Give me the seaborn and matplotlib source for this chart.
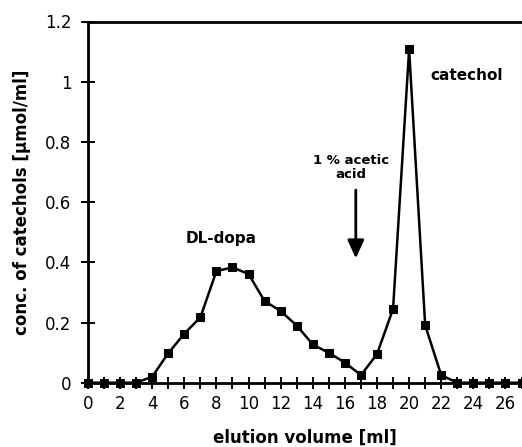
import matplotlib
matplotlib.use("Agg")
import matplotlib.pyplot as plt
import seaborn as sns
import numpy as np
import pandas as pd
from matplotlib.ticker import FuncFormatter

# Data
volume_ml = [0, 1, 2, 3, 4, 5, 6, 7, 8, 9, 10, 11, 12, 13, 14,
             15, 16, 17, 18, 19, 20, 21, 22, 23, 24, 25, 26, 27]
conc = [0.0, 0.0, 0.0, 0.0, 0.02, 0.098, 0.163, 0.217, 0.371, 0.383,
        0.361, 0.271, 0.238, 0.19, 0.127, 0.099, 0.067, 0.025, 0.095,
        0.245, 1.107, 0.191, 0.025, 0.0, 0.0, 0.0, 0.0, 0.0]
x_tick_labels = [str(v) for v in range(0, 27, 2)]
y_ticks = [0, 0.2, 0.4, 0.6, 0.8, 1.0, 1.2]

df = pd.DataFrame({"volume": volume_ml, "conc": conc})

sns.set_style("ticks")
plt.rcParams['font.family'] = ['DejaVu Sans']
plt.rcParams['text.color'] = 'black'
plt.rcParams['axes.labelcolor'] = 'black'
plt.rcParams['xtick.color'] = 'black'
plt.rcParams['ytick.color'] = 'black'

fig = plt.figure(figsize=(5.22, 4.47), dpi=100)
ax = fig.add_axes([88 / 522, 1 - 382.7 / 447, (521.5 - 88) / 522, (382.7 - 21.5) / 447])

sns.lineplot(data=df, x="volume", y="conc", ax=ax, color="black",
             marker="s", markersize=5.5, markeredgecolor="black",
             linewidth=1.8, clip_on=False, zorder=3)

ax.set_xlim(0, 27)
ax.set_ylim(0, 1.2)

ax.set_xticks(range(0, 27, 2))
ax.set_xticklabels(x_tick_labels)
ax.set_xticks(range(1, 28, 2), minor=True)
ax.set_yticks(y_ticks)
ax.yaxis.set_major_formatter(FuncFormatter(lambda v, p: ("%g" % round(v, 1))))

ax.tick_params(axis="x", which="both", direction="inout", length=8, width=1.4,
               labelsize=12, pad=5, colors="black")
ax.tick_params(axis="y", which="both", direction="inout", length=10, width=1.4,
               labelsize=12, pad=7, colors="black")

for side in ["left", "bottom", "top"]:
    ax.spines[side].set_visible(True)
    ax.spines[side].set_linewidth(2.0)
    ax.spines[side].set_color("black")
ax.spines["right"].set_visible(True)
ax.spines["right"].set_linewidth(0.8)
ax.spines["right"].set_color("#555555")

ax.set_xlabel("elution volume [ml]", fontsize=12, fontweight="bold", labelpad=11, color="black")
ax.set_ylabel("conc. of catechols [µmol/ml]", fontsize=12, fontweight="bold", labelpad=10, color="black")

ax.text(8.3, 0.48, "DL-dopa", fontsize=11, fontweight="bold", ha="center", va="center")
ax.text(23.6, 1.022, "catechol", fontsize=11, fontweight="bold", ha="center", va="center")
ax.text(16.4, 0.715, "1 % acetic\nacid", fontsize=9.5, fontweight="bold",
        ha="center", va="center", linespacing=1.1)
ax.annotate("", xy=(16.68, 0.413), xytext=(16.68, 0.64),
            arrowprops=dict(arrowstyle="-|>,head_length=1.1,head_width=0.5",
                            color="black", lw=2.0, shrinkA=0, shrinkB=0))

fig.savefig("out.png", dpi=100)
